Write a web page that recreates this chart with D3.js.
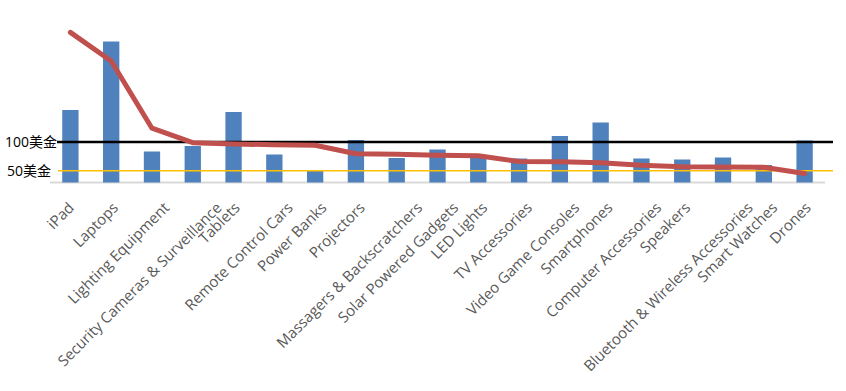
<!DOCTYPE html>
<html>
<head>
<meta charset="utf-8">
<script src="https://cdn.jsdelivr.net/npm/d3@7"></script>
<style>
  html, body { margin: 0; padding: 0; background: #fff; }
  svg { display: block; }
</style>
</head>
<body>
<svg id="chart" width="846" height="391"></svg>
<script>
// ---- data ----
const categories = ["iPad", "Laptops", "Lighting Equipment", "Security Cameras & Surveillance", "Tablets",
  "Remote Control Cars", "Power Banks", "Projectors", "Massagers & Backscratchers", "Solar Powered Gadgets",
  "LED Lights", "TV Accessories", "Video Game Consoles", "Smartphones", "Computer Accessories", "Speakers",
  "Bluetooth & Wireless Accessories", "Smart Watches", "Drones"];
const barValues = [72.5, 141, 31, 36.5, 70.5, 28, 12, 42.5, 24.5, 33, 26.5, 24, 46.5, 60, 24, 23, 25, 17.5, 42];
const lineValues = [291, 241, 124, 98.8, 96.5, 95.3, 94.3, 79.6, 78.6, 76.8, 76.1, 66, 65.7, 63.9, 59.4, 57, 56.4, 55.9, 45.1];
const refValues = [100, 50];
const refLabels = ["100美金", "50美金"];

// ---- layout ----
const svg = d3.select("#chart");
const x = d3.scaleBand().domain(categories).range([50, 825]).paddingInner(0.6).paddingOuter(0.3);
const yBar = d3.scaleLinear().domain([0, 150]).range([182.5, 32.5]);
const yLine = d3.scaleLinear().domain([0, 300]).range([199.4, 27.2]);
const font = "'Open Sans', 'Noto Sans CJK SC', sans-serif";

// axis baseline
svg.append("line").attr("x1", 50).attr("x2", 825)
  .attr("y1", yBar(0)).attr("y2", yBar(0))
  .attr("stroke", "#d9d9d9").attr("stroke-width", 2);

// bars
svg.append("g").selectAll("rect").data(categories).join("rect")
  .attr("x", d => x(d))
  .attr("width", x.bandwidth())
  .attr("y", (d, i) => yBar(barValues[i]))
  .attr("height", (d, i) => yBar(0) - yBar(barValues[i]))
  .attr("fill", "#4f81bd");

// reference lines
const refColors = ["#000000", "#ffc000"];
const refWidths = [2.5, 1.5];
const refStart = [57, 58];
svg.append("g").selectAll("line").data(refValues).join("line")
  .attr("x1", (d, i) => refStart[i]).attr("x2", 833)
  .attr("y1", d => yLine(d)).attr("y2", d => yLine(d))
  .attr("stroke", (d, i) => refColors[i])
  .attr("stroke-width", (d, i) => refWidths[i]);

svg.append("g").selectAll("text").data(refValues).join("text")
  .attr("x", (d, i) => i === 0 ? 5 : 7)
  .attr("y", d => yLine(d))
  .attr("dy", "0.35em")
  .attr("font-family", font)
  .attr("font-size", 14)
  .attr("fill", "#000")
  .text((d, i) => refLabels[i]);

// line series
const line = d3.line()
  .x((d, i) => x(categories[i]) + x.bandwidth() / 2)
  .y(d => yLine(d));
svg.append("path").datum(lineValues)
  .attr("d", line)
  .attr("fill", "none")
  .attr("stroke", "#c0504d")
  .attr("stroke-width", 5)
  .attr("stroke-linejoin", "round")
  .attr("stroke-linecap", "round");

// category labels
const labels = svg.append("g").selectAll("text").data(categories).join("text")
  .attr("font-family", font)
  .attr("font-size", 15)
  .attr("fill", "#595959")
  .attr("text-anchor", "end")
  .attr("dy", "0.35em")
  .text(d => d);
labels.each(function(d) {
  const L = this.getComputedTextLength();
  const cx = x(d) + x.bandwidth() / 2 + 0.13 * L - 3;
  d3.select(this).attr("transform", `translate(${cx},205) rotate(-45)`);
});
</script>
</body>
</html>
